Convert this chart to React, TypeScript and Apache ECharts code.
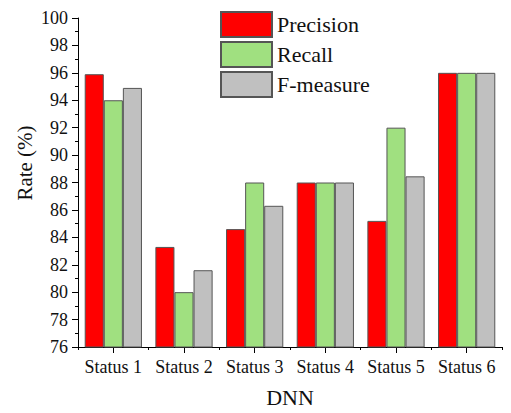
import React, { useEffect, useRef } from "react";
import * as echarts from "echarts";

const categories = ["Status 1", "Status 2", "Status 3", "Status 4", "Status 5", "Status 6"];
const precision = [95.9, 83.3, 84.6, 88, 85.2, 96];
const recall = [94, 80, 88, 88, 92, 96];
const fMeasure = [94.9, 81.6, 86.3, 88, 88.45, 96];
const seriesNames = ["Precision", "Recall", "F-measure"];
const yTicks = { min: 76, max: 100, interval: 2 };

const FONT = "'Liberation Serif', 'Times New Roman', serif";

export default function App() {
  const ref = useRef<HTMLDivElement>(null);
  useEffect(() => {
    if (!ref.current) return;
    const chart = echarts.init(ref.current, undefined, { renderer: "svg" });
    const colors = ["#ff0000", "#a0e080", "#c0c0c0"];
    const data = [precision, recall, fMeasure];
    chart.setOption({
      animation: false,
      backgroundColor: "#ffffff",
      grid: { left: 78, right: 9, top: 18, bottom: 60 },
      legend: {
        orient: "vertical",
        left: 215,
        top: 6,
        itemWidth: 51,
        itemHeight: 25,
        itemGap: 3,
        itemTextGap: 6,
        icon: "rect",
        textStyle: { fontFamily: FONT, fontSize: 22, color: "#111" },
        data: seriesNames,
      },
      xAxis: [
        {
          type: "category",
          data: categories,
          position: "bottom",
          name: "DNN",
          nameLocation: "middle",
          nameGap: 39,
          nameTextStyle: { fontFamily: FONT, fontSize: 22, color: "#111" },
          axisLine: { show: true, lineStyle: { color: "#000", width: 1 } },
          axisTick: { show: true, alignWithLabel: true, interval: 0, length: 6, lineStyle: { color: "#000" } },
          axisLabel: { fontFamily: FONT, fontSize: 18, color: "#111", margin: 11, interval: 0, hideOverlap: false },
        },
        {
          type: "category",
          data: categories,
          position: "bottom",
          gridIndex: 0,
          axisLine: { show: false },
          axisTick: { show: true, interval: 0, length: 3, lineStyle: { color: "#000" } },
          axisLabel: { show: false },
        },
      ],
      yAxis: {
        type: "value",
        min: yTicks.min,
        max: yTicks.max,
        interval: yTicks.interval,
        axisLine: { show: true, lineStyle: { color: "#000", width: 1 } },
        axisTick: { show: true, length: 6, lineStyle: { color: "#000" } },
        minorTick: { show: true, splitNumber: 2, length: 3, lineStyle: { color: "#000" } },
        splitLine: { show: false },
        axisLabel: { fontFamily: FONT, fontSize: 18, color: "#111", margin: 10 },
      },
      graphic: [
        {
          type: "text",
          x: 25,
          y: 163,
          rotation: Math.PI / 2,
          style: {
            text: "Rate (%)",
            font: `21px ${FONT}`,
            fill: "#111",
            textAlign: "center",
            textVerticalAlign: "middle",
          },
        },
      ],
      series: seriesNames.map((name, i) => ({
        name,
        type: "bar",
        xAxisIndex: 0,
        data: data[i],
        barGap: "0%",
        barCategoryGap: "19%",
        itemStyle: { color: colors[i], borderColor: "#555", borderWidth: 1 },
      })),
    });
    return () => chart.dispose();
  }, []);
  return <div ref={ref} style={{ width: 511, height: 413, position: "absolute", left: 0, top: 0 }} />;
}
